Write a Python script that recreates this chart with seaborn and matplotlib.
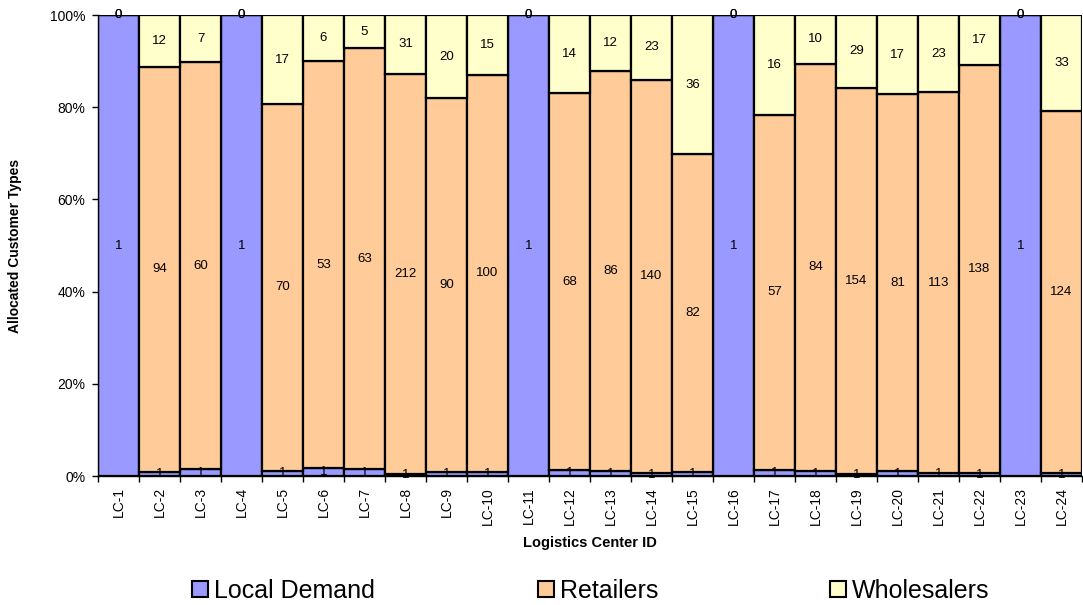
import numpy as np
import pandas as pd
import matplotlib
matplotlib.use("Agg")
import matplotlib.pyplot as plt
import seaborn as sns
from matplotlib.patches import Patch
from matplotlib.ticker import FixedLocator, PercentFormatter

centers = ["LC-%d" % i for i in range(1, 25)]
local_demand = [1] * 24
retailers = [0, 94, 60, 0, 70, 53, 63, 212, 90, 100, 0, 68, 86, 140, 82, 0,
             57, 84, 154, 81, 113, 138, 0, 124]
wholesalers = [0, 12, 7, 0, 17, 6, 5, 31, 20, 15, 0, 14, 12, 23, 36, 0,
               16, 10, 29, 17, 23, 17, 0, 33]

series = ["Local Demand", "Retailers", "Wholesalers"]
colors = ["#9999FF", "#FFCC99", "#FFFFCC"]

df = pd.DataFrame({"center": centers, "Local Demand": local_demand,
                   "Retailers": retailers, "Wholesalers": wholesalers})
total = df[series].sum(axis=1)
pct = df[series].div(total, axis=0) * 100

sns.set_style("white")
plt.rcParams["font.family"] = ["Liberation Sans", "DejaVu Sans"]
plt.rcParams["text.color"] = "black"
plt.rcParams["axes.labelcolor"] = "black"
plt.rcParams["xtick.color"] = "black"
plt.rcParams["ytick.color"] = "black"

fig = plt.figure(figsize=(10.83, 6.05), dpi=100)
ax = fig.add_axes([0.0905, 0.2132, 0.9085, 0.7620])

bottom = np.zeros(len(df))
for name, col in zip(series, colors):
    sns.barplot(x=df["center"], y=pct[name], bottom=bottom, color=col,
                width=1.0, edgecolor="black", linewidth=1.6, errorbar=None,
                saturation=1, ax=ax)
    # value labels in the middle of each segment
    for i, (v, h) in enumerate(zip(df[name], pct[name])):
        ax.text(i, bottom[i] + h / 2, str(v), ha="center", va="center",
                fontsize=9.5, color="black", clip_on=False)
    bottom = bottom + pct[name].to_numpy()

ax.set_xlim(-0.5, len(df) - 0.5)
ax.set_ylim(0, 100)
ax.yaxis.set_major_locator(FixedLocator([0, 20, 40, 60, 80, 100]))
ax.yaxis.set_major_formatter(PercentFormatter(decimals=0))
ax.set_xticks(range(len(df)))
ax.set_xticklabels(centers, rotation=90)
ax.xaxis.set_minor_locator(FixedLocator(np.arange(-0.5, len(df), 1)))
ax.tick_params(axis="x", which="major", length=0, labelsize=10, pad=8)
ax.tick_params(axis="x", which="minor", length=4, width=1, direction="out",
               color="black", bottom=True)
ax.tick_params(axis="y", length=4, width=1, direction="out", color="black",
               labelsize=10, left=True, pad=5)

sns.despine(ax=ax, top=True, right=True)
for s in ["left", "bottom"]:
    ax.spines[s].set_color("black")
    ax.spines[s].set_linewidth(1)

ax.set_xlabel("Logistics Center ID", fontsize=10.5, fontweight="bold", labelpad=8)
ax.set_ylabel("Allocated Customer Types", fontsize=10, fontweight="bold",
              labelpad=20)

# legend entries placed along the bottom
legend_x = [192 / 1083, 538 / 1083, 830 / 1083]
for name, col, lx in zip(series, colors, legend_x):
    fig.legend(handles=[Patch(facecolor=col, edgecolor="black", linewidth=1.5)],
               labels=[name], loc="center left",
               bbox_to_anchor=(lx, 1 - 591 / 605), frameon=False, fontsize=18,
               handlelength=0.62, handleheight=0.62, handletextpad=0.25,
               borderpad=0, borderaxespad=0)

fig.savefig("out.png", dpi=100)
